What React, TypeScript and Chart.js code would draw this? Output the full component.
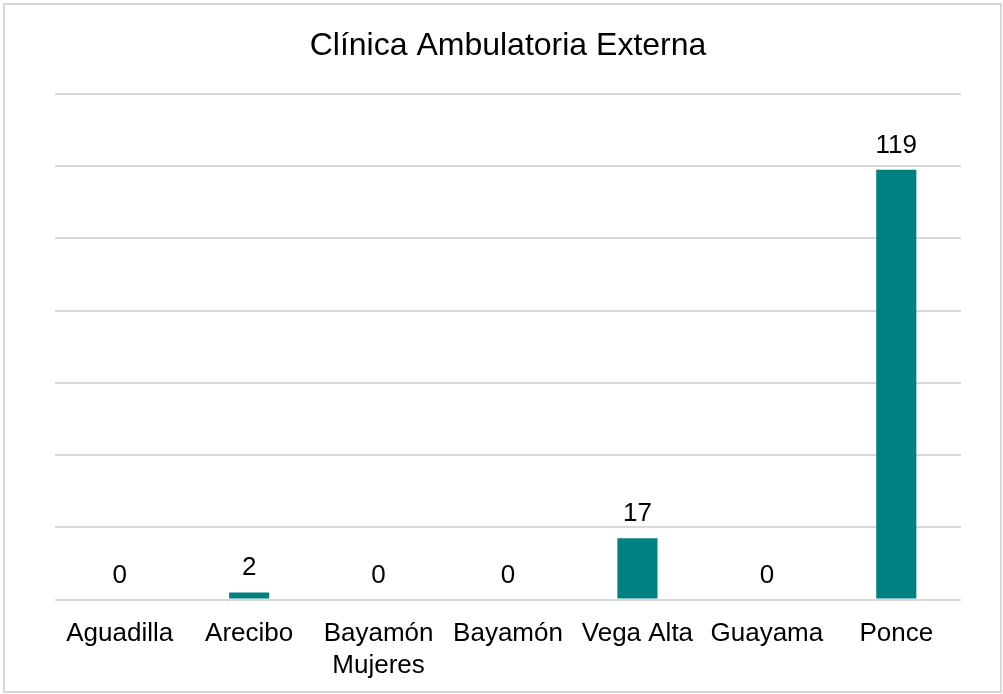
import React, { useEffect, useRef } from "react";
import { Chart, registerables } from "chart.js";

Chart.register(...registerables);

const TITLE = "Clínica Ambulatoria Externa";
const categories: (string | string[])[] = [
  "Aguadilla",
  "Arecibo",
  ["Bayamón", "Mujeres"],
  "Bayamón",
  "Vega Alta",
  "Guayama",
  "Ponce",
];
const values = [0, 2, 0, 0, 17, 0, 119];
const Y_MAX = 140;
const Y_STEP = 20;

const FONT = "'Liberation Sans', Arial, sans-serif";
const BAR_COLOR = "#008080";
const GRID_COLOR = "#d9d9d9";

const dataLabels = {
  id: "dataLabels",
  afterDatasetsDraw(chart: any) {
    const ctx = chart.ctx;
    const meta = chart.getDatasetMeta(0);
    ctx.save();
    ctx.font = `26px ${FONT}`;
    ctx.fillStyle = "#000";
    ctx.textAlign = "center";
    ctx.textBaseline = "alphabetic";
    meta.data.forEach((bar: any, i: number) => {
      ctx.fillText(String(values[i]), bar.x, bar.y - 17);
    });
    ctx.restore();
  },
};

export default function App() {
  const ref = useRef<HTMLCanvasElement | null>(null);
  useEffect(() => {
    if (!ref.current) return;
    const chart = new Chart(ref.current, {
      type: "bar",
      data: {
        labels: categories,
        datasets: [
          {
            data: values,
            backgroundColor: BAR_COLOR,
            borderWidth: 0,
            barPercentage: 1,
            categoryPercentage: 0.31,
          },
        ],
      },
      options: {
        animation: false,
        responsive: false,
        maintainAspectRatio: false,
        layout: { padding: { left: 55, right: 42, top: 0, bottom: -6 } },
        plugins: {
          legend: { display: false },
          tooltip: { enabled: false },
          title: {
            display: true,
            text: TITLE,
            color: "#000",
            font: { family: FONT, size: 32, weight: "normal", lineHeight: 1.2 },
            padding: { top: 27, bottom: 28.6 },
          },
        },
        scales: {
          x: {
            grid: { display: false, drawTicks: false },
            border: { display: false },
            ticks: {
              color: "#000",
              font: { family: FONT, size: 26, lineHeight: 1.2 },
              padding: 19,
              maxRotation: 0,
              autoSkip: false,
            },
          },
          y: {
            min: 0,
            max: Y_MAX,
            ticks: { display: false, stepSize: Y_STEP },
            grid: { color: GRID_COLOR, lineWidth: 2, drawTicks: false },
            border: { display: false },
          },
        },
      },
      plugins: [dataLabels],
    });
    return () => chart.destroy();
  }, []);

  return (
    <div style={{ position: "absolute", left: 0, top: 0, width: 1003, height: 694, background: "#fff" }}>
      <canvas ref={ref} width={1003} height={694} style={{ position: "absolute", left: 0, top: 0 }} />
      <div
        style={{
          position: "absolute",
          left: 3,
          top: 3,
          width: 999,
          height: 690,
          border: `2px solid ${GRID_COLOR}`,
          boxSizing: "border-box",
          pointerEvents: "none",
        }}
      />
    </div>
  );
}
